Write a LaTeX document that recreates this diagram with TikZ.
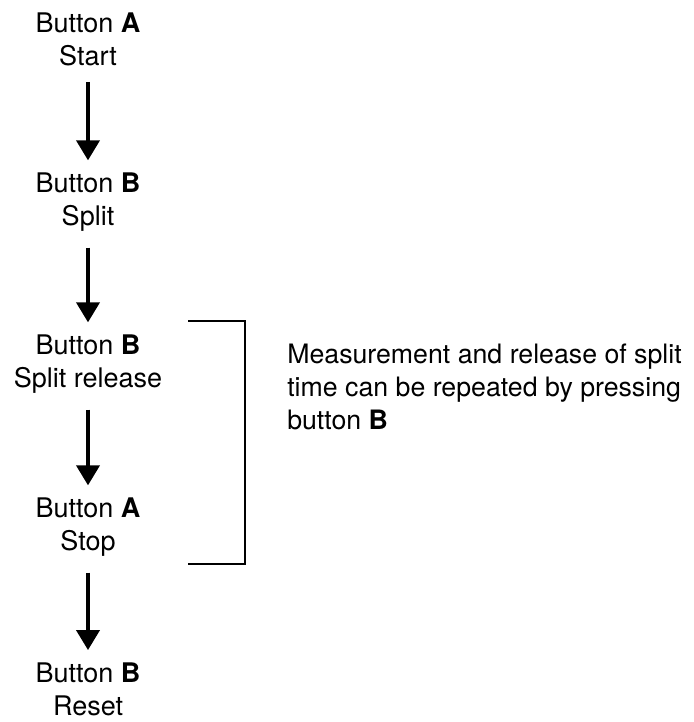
\documentclass[tikz,border=0pt]{standalone}
\usepackage{fontspec}
\setmainfont{TeX Gyre Heros}
\usetikzlibrary{arrows.meta,positioning}
\newcommand{\btn}[1]{Button \textbf{#1}}

\begin{document}
\begin{tikzpicture}[
    x=0.025cm, y=-0.025cm,
    stepbox/.style={align=center, font=\fontsize{19.2}{23.6}\selectfont, inner sep=0pt},
    flow/.style={-{Triangle[width=0.575cm, length=0.5cm]}, line width=2.7pt,
                 shorten <=0.4cm, shorten >=0.3cm},
    note/.style={align=left, anchor=west, font=\fontsize{19}{23.4}\selectfont, inner sep=0pt},
]
\useasboundingbox (0,0) rectangle (693,722);

\node[stepbox] (start)   at (88,39)  {\btn{A}\\Start};
\node[stepbox] (split)   at (88,202) {\btn{B}\\Split};
\node[stepbox] (release) at (88,364) {\btn{B}\\Split release};
\node[stepbox] (stop)    at (88,527) {\btn{A}\\Stop};
\node[stepbox] (reset)   at (88,689) {\btn{B}\\Reset};

\draw[flow] (start)   -- (split);
\draw[flow] (split)   -- (release);
\draw[flow] (release) -- (stop);
\draw[flow] (stop)    -- (reset);

% bracket round the repeatable part
\coordinate (brtop) at (188,321);
\coordinate (brbot) at (188,564);
\draw[line width=1.9pt] (brtop) -- ++(57,0) |- (brbot);

\node[note] (repeat) at (287,387) {Measurement and release of split\\time can be repeated by pressing\\button \textbf{B}};
\end{tikzpicture}
\end{document}
